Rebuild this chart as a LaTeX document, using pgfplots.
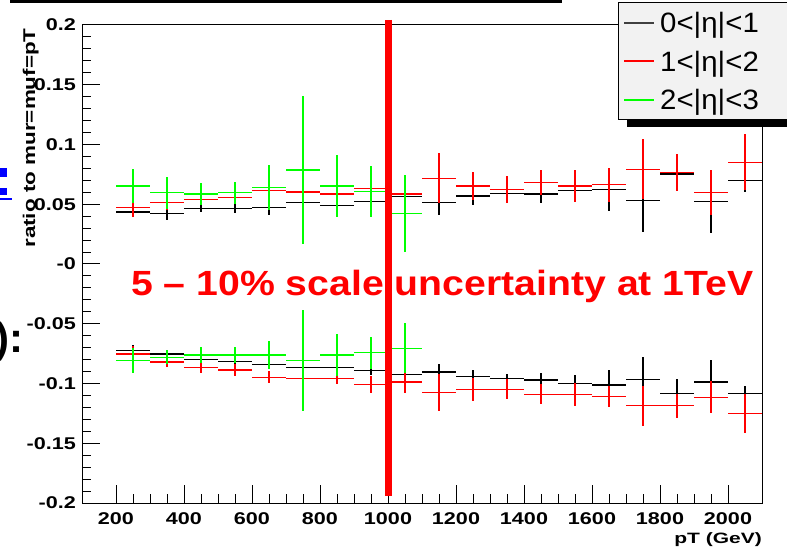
\documentclass[border=0pt]{standalone}
\usepackage{pgfplots}
\pgfplotsset{compat=1.18}
\usepackage{pgfplotstable}
\usepackage{graphicx}
\usepackage{fontspec}
\setmainfont{Liberation Sans}
\definecolor{legendgray}{RGB}{242,242,242}
\definecolor{rootgreen}{RGB}{0,255,0}
\definecolor{rootred}{RGB}{255,0,0}
\newcommand{\rs}[1]{\scalebox{1.27}[1]{#1}}

\pgfplotstableread{
x ex y ey
250 50 0.0435 0.003
350 50 0.0424 0.0056
450 50 0.0463 0.003
550 50 0.0463 0.004
650 50 0.0474 0.0064
750 50 0.0513 0.003
850 50 0.0491 0.0095
950 50 0.0522 0.003
1050 50 0.0563 0.003
1150 50 0.0513 0.0103
1250 50 0.0569 0.0075
1350 50 0.0591 0.003
1450 50 0.0586 0.0078
1550 50 0.0614 0.004
1650 50 0.0625 0.0178
1750 50 0.0530 0.0265
1850 50 0.0753 0.003
1950 50 0.0522 0.026
2050 50 0.0700 0.0095
250 50 -0.0722 0.004
350 50 -0.0753 0.003
450 50 -0.0798 0.003
550 50 -0.0817 0.003
650 50 -0.0840 0.003
750 50 -0.0865 0.003
850 50 -0.0865 0.003
950 50 -0.0893 0.004
1050 50 -0.0923 0.003
1150 50 -0.0904 0.007
1250 50 -0.0943 0.0056
1350 50 -0.0960 0.004
1450 50 -0.0971 0.006
1550 50 -0.0999 0.0067
1650 50 -0.1013 0.013
1750 50 -0.0965 0.0184
1850 50 -0.1082 0.0117
1950 50 -0.0987 0.0184
2050 50 -0.1082 0.006
}\blackdata

\pgfplotstableread{
x ex y ey
250 50 0.0474 0.0078
350 50 0.0516 0.006
450 50 0.0541 0.004
550 50 0.0558 0.005
650 50 0.0614 0.005
750 50 0.0603 0.004
850 50 0.0586 0.004
950 50 0.0633 0.004
1050 50 0.0585 0.004
1150 50 0.0717 0.021
1250 50 0.0653 0.0114
1350 50 0.0625 0.0114
1450 50 0.0680 0.0106
1550 50 0.0653 0.0134
1650 50 0.0664 0.0142
1750 50 0.0792 0.025
1850 50 0.0764 0.0153
1950 50 0.0597 0.019
2050 50 0.0851 0.0234
250 50 -0.0753 0.0064
350 50 -0.0820 0.004
450 50 -0.0865 0.0045
550 50 -0.0887 0.005
650 50 -0.0948 0.005
750 50 -0.0957 0.004
850 50 -0.0957 0.005
950 50 -0.1007 0.007
1050 50 -0.0987 0.009
1150 50 -0.1074 0.0153
1250 50 -0.1049 0.0095
1350 50 -0.1049 0.0084
1450 50 -0.1090 0.0084
1550 50 -0.1090 0.0095
1650 50 -0.1110 0.009
1750 50 -0.1186 0.0167
1850 50 -0.1186 0.01
1950 50 -0.1116 0.0134
2050 50 -0.1253 0.0165
}\reddata

\pgfplotstableread{
x ex y ey
250 50 0.0653 0.014
350 50 0.0597 0.0134
450 50 0.0586 0.009
550 50 0.0597 0.0092
650 50 0.0642 0.0187
750 50 0.0787 0.062
850 50 0.0653 0.0257
950 50 0.0605 0.0215
1050 50 0.0424 0.032
250 50 -0.0806 0.0106
350 50 -0.0781 0.006
450 50 -0.0761 0.007
550 50 -0.0761 0.007
650 50 -0.0761 0.0117
750 50 -0.0806 0.042
850 50 -0.0761 0.0173
950 50 -0.0742 0.0134
1050 50 -0.0706 0.0209
}\greendata

\begin{document}
\begin{tikzpicture}
% slide remnants
\fill[black] (10pt,546pt) rectangle (562pt,549pt);
\fill[blue] (0pt,372pt) rectangle (7pt,381pt);
\fill[blue] (0pt,354pt) rectangle (7pt,361pt);
\fill[blue] (0pt,349pt) rectangle (12pt,351pt);
\node[anchor=base east, inner sep=0pt, font=\bfseries\fontsize{42}{42}\selectfont] at (24pt,196pt) {):};

\begin{axis}[
  at={(82pt,46pt)}, anchor=south west,
  width=680pt, height=478pt, scale only axis,
  xmin=100, xmax=2100, ymin=-0.2, ymax=0.2,
  xtick={200,400,600,800,1000,1200,1400,1600,1800,2000},
  xticklabels={\rs{200},\rs{400},\rs{600},\rs{800},\rs{1000},\rs{1200},\rs{1400},\rs{1600},\rs{1800},\rs{2000}},
  ytick={-0.2,-0.15,-0.1,-0.05,0,0.05,0.1,0.15,0.2},
  yticklabels={\rs{-0.2},\rs{-0.15},\rs{-0.1},\rs{-0.05},\rs{-0},\rs{0.05},\rs{0.1},\rs{0.15},\rs{0.2}},
  minor x tick num=3, minor y tick num=4,
  tick pos=left, tick align=inside,
  major tick length=18pt, minor tick length=9pt,
  every tick/.append style={black, line width=1pt},
  axis line style={line width=1pt},
  ticklabel style={font=\bfseries\fontsize{17}{17}\selectfont, inner sep=0pt},
  yticklabel style={xshift=-6pt},
  xticklabel style={yshift=-9pt},
  clip=false,
]
\addplot[black, draw=none, mark=none,
  error bars/.cd, x dir=both, x explicit, y dir=both, y explicit,
  error mark=none, error bar style={draw=black, color=black, line width=1.2pt}]
  table[x=x,y=y,x error=ex,y error=ey]{\blackdata};
\addplot[rootred, draw=none, mark=none,
  error bars/.cd, x dir=both, x explicit, y dir=both, y explicit,
  error mark=none, error bar style={draw=rootred, color=rootred, line width=1.2pt}]
  table[x=x,y=y,x error=ex,y error=ey]{\reddata};
\addplot[rootgreen, draw=none, mark=none,
  error bars/.cd, x dir=both, x explicit, y dir=both, y explicit,
  error mark=none, error bar style={draw=rootgreen, color=rootgreen, line width=1.2pt}]
  table[x=x,y=y,x error=ex,y error=ey]{\greendata};
\addplot[rootred, line width=7pt, no marks] coordinates {(1000,0.2042) (1000,-0.1941)};
\end{axis}

% axis labels
\node[rotate=90, anchor=base, inner sep=0pt, font=\bfseries\fontsize{17}{17}\selectfont] at (35pt,411pt) {\scalebox{1.32}[1]{ratio to mur=muf=pT}};
\node[anchor=base east, inner sep=0pt, font=\bfseries\fontsize{15}{15}\selectfont] at (762pt,6pt) {\scalebox{1.4}[1]{pT (GeV)}};

% annotation
\node[anchor=base west, inner sep=0pt, text=rootred, font=\bfseries\fontsize{35}{35}\selectfont] at (131pt,253pt) {\scalebox{1.12}[1]{5 – 10\% scale uncertainty at 1TeV}};

% legend
\fill[black] (627pt,422pt) rectangle (800pt,429pt);
\draw[fill=legendgray, line width=1pt] (618.5pt,429pt) rectangle (800pt,546.5pt);
\draw[black!75, line width=1.5pt] (624pt,526pt) -- (654pt,526pt);
\draw[rootred, line width=1.5pt] (624pt,488pt) -- (654pt,488pt);
\draw[rootgreen, line width=1.5pt] (624pt,449pt) -- (654pt,449pt);
\node[anchor=base west, inner sep=0pt, font=\fontsize{28}{28}\selectfont] at (660pt,516pt) {\scalebox{1.05}[1]{0<|η|<1}};
\node[anchor=base west, inner sep=0pt, font=\fontsize{28}{28}\selectfont] at (660pt,477pt) {\scalebox{1.05}[1]{1<|η|<2}};
\node[anchor=base west, inner sep=0pt, font=\fontsize{28}{28}\selectfont] at (660pt,439pt) {\scalebox{1.05}[1]{2<|η|<3}};

\pgfresetboundingbox
\path[use as bounding box] (0pt,0pt) rectangle (787pt,549pt);
\end{tikzpicture}
\end{document}
